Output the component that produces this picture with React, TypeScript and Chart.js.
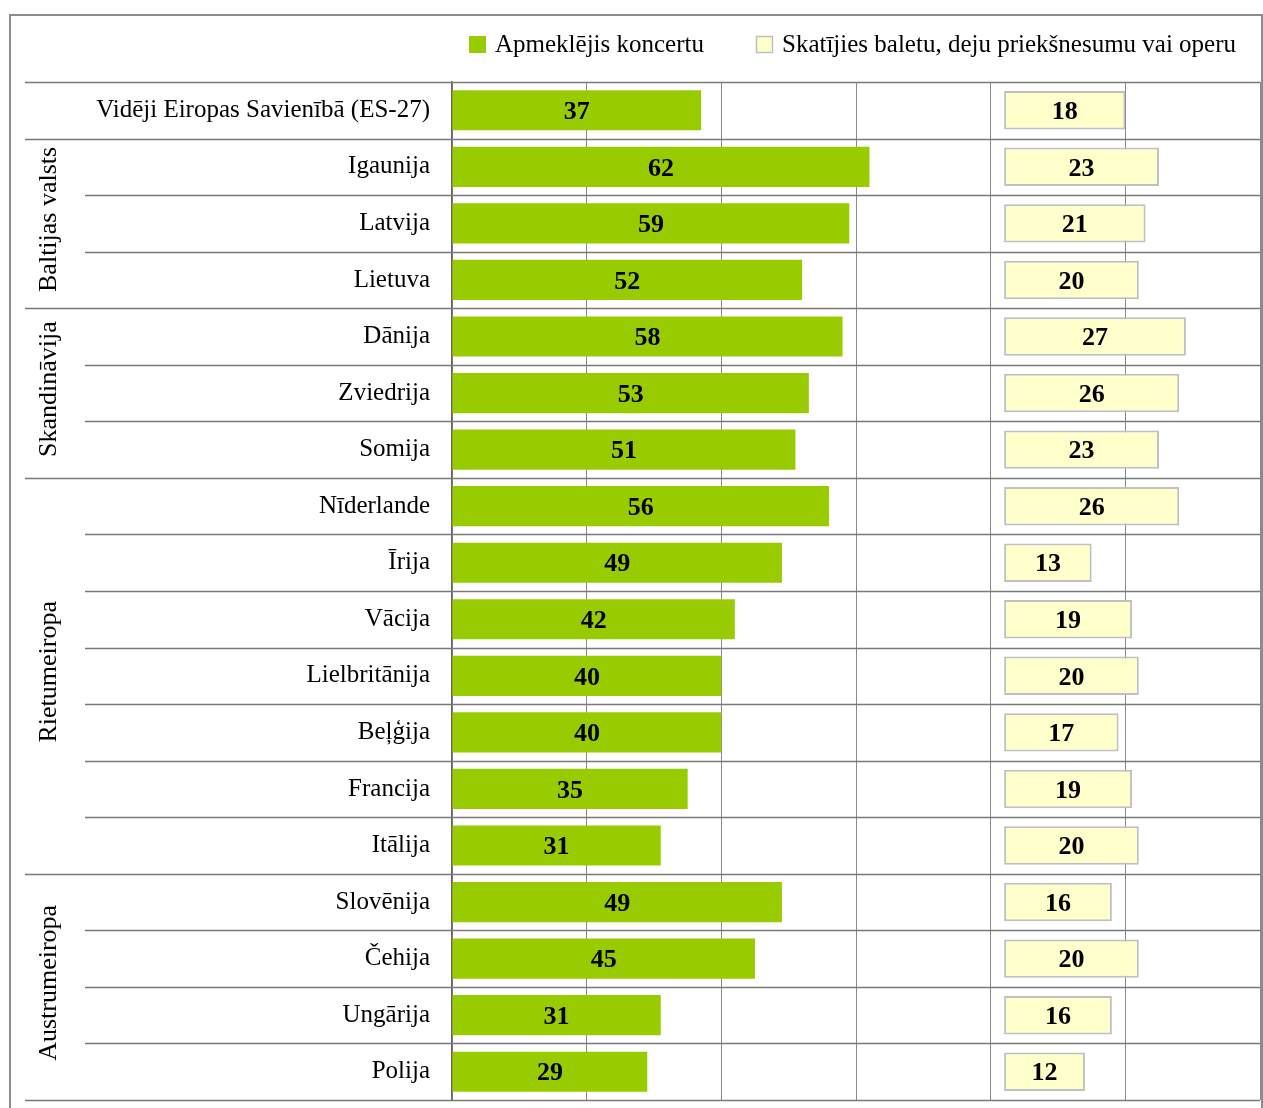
import { useEffect, useRef } from 'react';
import { Chart, registerables } from 'chart.js';

Chart.register(...registerables);

const categories = [
  'Vidēji Eiropas Savienībā (ES-27)',
  'Igaunija',
  'Latvija',
  'Lietuva',
  'Dānija',
  'Zviedrija',
  'Somija',
  'Nīderlande',
  'Īrija',
  'Vācija',
  'Lielbritānija',
  'Beļģija',
  'Francija',
  'Itālija',
  'Slovēnija',
  'Čehija',
  'Ungārija',
  'Polija',
];

const concertValues = [37, 62, 59, 52, 58, 53, 51, 56, 49, 42, 40, 40, 35, 31, 49, 45, 31, 29];
const balletValues = [18, 23, 21, 20, 27, 26, 23, 26, 13, 19, 20, 17, 19, 20, 16, 20, 16, 12];

const seriesLabels = ['Apmeklējis koncertu', 'Skatījies baletu, deju priekšnesumu vai operu'];

const groupNames = ['Baltijas valsts', 'Skandināvija', 'Rietumeiropa', 'Austrumeiropa'];
const groupStarts = [1, 4, 7, 14];
const groupEnds = [3, 6, 13, 17];

const AXIS_MAX = 120;
const AXIS_STEP = 20;
const BALLET_AXIS_MIN = -82;

const FONT = "'Liberation Serif', 'Times New Roman', serif";
const GREEN = '#99CC00';
const YELLOW = '#FFFFCC';
const YELLOW_BORDER = '#C0C0C0';

const decorPlugin = {
  id: 'decor',
  beforeDraw(chart: any) {
    const { ctx, width, height } = chart;
    ctx.save();
    ctx.fillStyle = '#fff';
    ctx.fillRect(0, 0, width, height);
    ctx.restore();
  },
  afterDatasetsDraw(chart: any) {
    const { ctx } = chart;
    ctx.save();
    ctx.font = `bold 26px ${FONT}`;
    ctx.fillStyle = '#000';
    ctx.textAlign = 'center';
    ctx.textBaseline = 'middle';
    chart.data.datasets.forEach((ds: any, di: number) => {
      const meta = chart.getDatasetMeta(di);
      meta.data.forEach((el: any, i: number) => {
        const p = el.getProps(['x', 'base', 'y'], true);
        ctx.fillText(String(ds.data[i]), (p.x + p.base) / 2, p.y + 2);
      });
    });
    ctx.restore();
  },
  afterDraw(chart: any) {
    const { ctx, chartArea } = chart;
    const yScale = chart.scales.y;
    const n = categories.length;
    const boundary = (i: number) => {
      if (i <= 0) return chartArea.top;
      if (i >= n) return chartArea.bottom;
      return (yScale.getPixelForValue(i - 1) + yScale.getPixelForValue(i)) / 2;
    };
    const majorBreaks = new Set<number>([0, 1, n, ...groupStarts]);
    ctx.save();
    ctx.strokeStyle = '#7a7a7a';
    ctx.lineWidth = 1.5;
    for (let i = 0; i <= n; i++) {
      const y = Math.round(boundary(i)) + 0.5;
      const x0 = majorBreaks.has(i) ? 25 : 85;
      ctx.beginPath();
      ctx.moveTo(x0, y);
      ctx.lineTo(chartArea.right, y);
      ctx.stroke();
    }
    // group labels
    ctx.fillStyle = '#000';
    ctx.font = `26px ${FONT}`;
    ctx.textAlign = 'center';
    ctx.textBaseline = 'middle';
    groupNames.forEach((g, gi) => {
      const yc = (boundary(groupStarts[gi]) + boundary(groupEnds[gi] + 1)) / 2;
      ctx.save();
      ctx.translate(49, yc - 4);
      ctx.rotate(-Math.PI / 2);
      ctx.fillText(g, 0, 0);
      ctx.restore();
    });
    // outer frame
    ctx.strokeStyle = '#8c8c8c';
    ctx.lineWidth = 2;
    ctx.strokeRect(10, 15, 1252, 1100);
    // legend
    ctx.font = `25px ${FONT}`;
    ctx.textAlign = 'left';
    ctx.textBaseline = 'middle';
    const ly = 44;
    let lx = 469;
    chart.data.datasets.forEach((ds: any, di: number) => {
      ctx.fillStyle = ds.backgroundColor;
      ctx.fillRect(lx, ly - 8, 17, 17);
      if (di === 1) {
        ctx.strokeStyle = YELLOW_BORDER;
        ctx.lineWidth = 1.5;
        ctx.strokeRect(lx + 0.5, ly - 7.5, 16, 16);
      }
      ctx.fillStyle = '#000';
      ctx.fillText(ds.label, lx + 26, ly + 1);
      lx += 26 + ctx.measureText(ds.label).width + 52;
    });
    ctx.restore();
  },
};

export default function App() {
  const canvasRef = useRef<HTMLCanvasElement | null>(null);

  useEffect(() => {
    if (!canvasRef.current) return;
    const chart = new Chart(canvasRef.current, {
      type: 'bar',
      data: {
        labels: categories,
        datasets: [
          {
            label: seriesLabels[0],
            data: concertValues,
            backgroundColor: GREEN,
            borderWidth: 0,
            grouped: false,
            categoryPercentage: 1,
            barPercentage: 0.71,
            xAxisID: 'x',
          },
          {
            label: seriesLabels[1],
            data: balletValues,
            backgroundColor: YELLOW,
            borderColor: YELLOW_BORDER,
            borderWidth: 2,
            borderSkipped: false,
            grouped: false,
            categoryPercentage: 1,
            barPercentage: 0.68,
            xAxisID: 'xBallet',
          },
        ],
      } as any,
      options: {
        indexAxis: 'y',
        responsive: false,
        animation: false,
        devicePixelRatio: 1,
        layout: { autoPadding: false, padding: { top: 82, right: 3, bottom: 8, left: 0 } },
        plugins: {
          legend: { display: false },
          tooltip: { enabled: false },
        },
        scales: {
          x: {
            type: 'linear',
            min: 0,
            max: AXIS_MAX,
            position: 'bottom',
            ticks: { display: false, stepSize: AXIS_STEP, padding: 0 },
            grid: { color: '#8a8a8a', lineWidth: 1, drawTicks: false },
            border: { display: false },
            afterFit: (s: any) => {
              s.height = 0;
            },
          },
          xBallet: {
            type: 'linear',
            min: BALLET_AXIS_MIN,
            max: BALLET_AXIS_MIN + AXIS_MAX,
            position: 'bottom',
            display: false,
          },
          y: {
            type: 'category',
            position: 'left',
            grid: { display: false },
            border: { display: true, color: '#666', width: 1.5 },
            ticks: {
              autoSkip: false,
              padding: 14,
              color: '#000',
              font: { family: FONT, size: 25 },
            },
            afterFit: (s: any) => {
              s.width = 452;
              s.paddingTop = 0;
              s.paddingBottom = 0;
            },
          },
        },
      } as any,
      plugins: [decorPlugin],
    });
    return () => chart.destroy();
  }, []);

  return (
    <div style={{ position: 'absolute', left: 0, top: 0, width: 1263, height: 1108 }}>
      <canvas ref={canvasRef} width={1263} height={1108} style={{ width: 1263, height: 1108 }} />
    </div>
  );
}
